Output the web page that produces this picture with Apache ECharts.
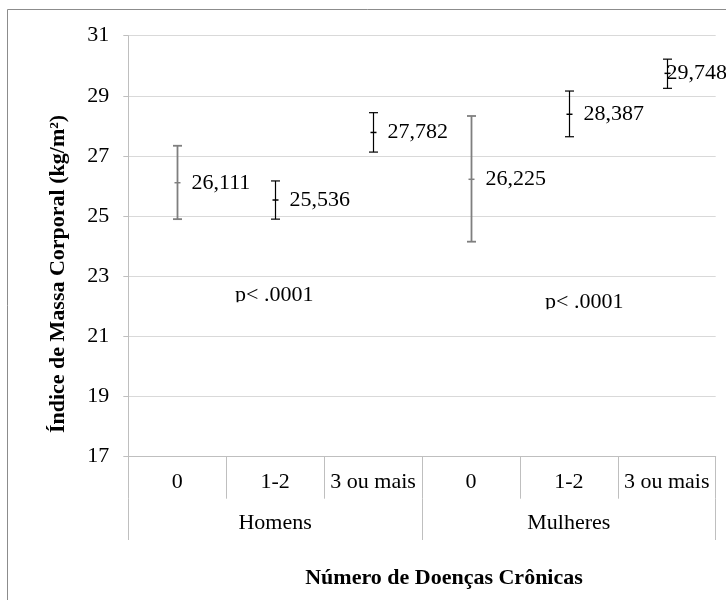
<!DOCTYPE html>
<html><head><meta charset="utf-8">
<script src="https://cdn.jsdelivr.net/npm/echarts@6/dist/echarts.min.js"></script>
<style>html,body{margin:0;padding:0;background:#fff}#c{width:726px;height:600px}</style>
</head><body><div id="c"></div>
<script>
const categories = ['0', '1-2', '3 ou mais', '0', '1-2', '3 ou mais'];
const groups = ['Homens', 'Mulheres'];
const means = [26.111, 25.536, 27.782, 26.225, 28.387, 29.748];
const lows  = [24.90, 24.90, 27.13, 24.15, 27.64, 29.25];
const highs = [27.34, 26.17, 28.44, 28.33, 29.16, 30.22];
const barColors = ['#7f7f7f', '#000000', '#000000', '#7f7f7f', '#000000', '#000000'];
const pNotes = ['p< .0001', 'p< .0001'];
const yTitle = 'Índice de Massa Corporal (kg/m²)';
const xTitle = 'Número de Doenças Crônicas';

const FF = '"Liberation Serif", "Times New Roman", serif';
const AX = '#bfbfbf';

const chart = echarts.init(document.getElementById('c'));
const seriesData = categories.map((c, i) => [i, lows[i], highs[i], means[i]]);

function fmt(v) { return v.toFixed(3).replace('.', ','); }

chart.setOption({
  animation: false,
  backgroundColor: '#fff',
  grid: { left: 128.3, right: 10.3, top: 35.7, bottom: 143.3, containLabel: false },
  xAxis: [
    {
      type: 'category', data: categories, position: 'bottom', boundaryGap: true,
      axisLine: { show: true, lineStyle: { color: AX, width: 1 } },
      axisTick: { show: true, interval: 0, length: 42, lineStyle: { color: AX } },
      axisLabel: { interval: 0, margin: 15, fontSize: 22, fontFamily: FF, color: '#000' },
      splitLine: { show: false }
    },
    {
      type: 'category', data: groups, position: 'bottom', offset: 42, boundaryGap: true,
      axisLine: { show: false },
      axisTick: { show: true, interval: 0, length: 41.3, lineStyle: { color: AX } },
      axisLabel: { interval: 0, margin: 14, fontSize: 22, fontFamily: FF, color: '#000' },
      splitLine: { show: false }
    }
  ],
  yAxis: {
    type: 'value', min: 17, max: 31, interval: 2,
    axisLine: { show: true, lineStyle: { color: AX } },
    axisTick: { show: true, length: 5, lineStyle: { color: AX } },
    axisLabel: { margin: 19, fontSize: 22, fontFamily: FF, color: '#000' },
    splitLine: { show: true, lineStyle: { color: '#d9d9d9', width: 1 } }
  },
  series: [{
    type: 'custom',
    xAxisIndex: 0,
    clip: false,
    data: seriesData,
    encode: { x: 0, y: [1, 2, 3] },
    renderItem: function (params, api) {
      const i = api.value(0);
      const lo = api.coord([i, api.value(1)]);
      const hi = api.coord([i, api.value(2)]);
      const m = api.coord([i, api.value(3)]);
      const x = Math.round(lo[0]) + 0.5;
      const col = barColors[params.dataIndex];
      const lw = col === '#000000' ? 1.2 : 1.8;
      const cap = 4.5;
      const st = { stroke: col, lineWidth: lw };
      let tx = x + 14, align = 'left';
      if (tx + 61 > api.getWidth()) { tx = api.getWidth() + 1; align = 'right'; }
      return {
        type: 'group',
        children: [
          { type: 'line', shape: { x1: x, y1: lo[1], x2: x, y2: hi[1] }, style: st },
          { type: 'line', shape: { x1: x - cap, y1: hi[1], x2: x + cap, y2: hi[1] }, style: st },
          { type: 'line', shape: { x1: x - cap, y1: lo[1], x2: x + cap, y2: lo[1] }, style: st },
          { type: 'line', shape: { x1: x - 3, y1: m[1], x2: x + 3, y2: m[1] }, style: { stroke: col, lineWidth: 1.5 } },
          { type: 'text', x: tx, y: m[1], style: { text: fmt(api.value(3)), fontSize: 22, fontFamily: FF, fill: '#000', align: align, verticalAlign: 'middle' } }
        ]
      };
    }
  }],
  graphic: [
    { type: 'rect', shape: { x: 7.5, y: 9.5, width: 800, height: 700 }, style: { fill: 'none', stroke: '#8c8c8c', lineWidth: 1 }, silent: true, z: -1 },
    { type: 'text', x: 58, y: 274, rotation: Math.PI / 2, style: { text: yTitle, fontSize: 22, fontWeight: 'bold', fontFamily: FF, fill: '#000', align: 'center', verticalAlign: 'middle' } },
    { type: 'text', x: 444, y: 578, style: { text: xTitle, fontSize: 22, fontWeight: 'bold', fontFamily: FF, fill: '#000', align: 'center', verticalAlign: 'middle' } },
    { type: 'text', x: 274.2, y: 295.2, z: 10, style: { text: pNotes[0], fontSize: 22, fontFamily: FF, fill: '#000', align: 'center', verticalAlign: 'middle' } },
    { type: 'rect', z: 11, shape: { x: 230, y: 302.3, width: 90, height: 10 }, style: { fill: '#fff' } },
    { type: 'text', x: 584.2, y: 302.2, z: 10, style: { text: pNotes[1], fontSize: 22, fontFamily: FF, fill: '#000', align: 'center', verticalAlign: 'middle' } },
    { type: 'rect', z: 11, shape: { x: 540, y: 309.3, width: 90, height: 10 }, style: { fill: '#fff' } }
  ]
});
</script>
</body></html>
